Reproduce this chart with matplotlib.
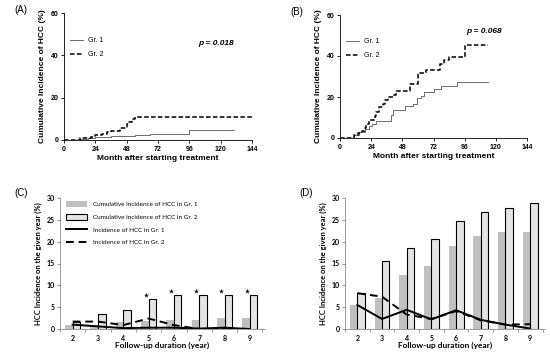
import matplotlib.pyplot as plt
import numpy as np

plt.rcParams['font.family'] = ['Liberation Sans', 'DejaVu Sans']

# ---- (A) cumulative incidence, KM steps
a_t1 = [0, 12, 18, 24, 36, 48, 54, 66, 96, 130]
a_v1 = [0, 0.5, 1.0, 1.5, 1.8, 2.0, 2.3, 2.8, 4.8, 4.8]
a_t2 = [0, 12, 16, 21, 24, 29, 33, 36, 43, 48, 50, 52, 54, 144]
a_v2 = [0, 0.8, 1.1, 1.6, 2.2, 3.0, 3.6, 4.2, 5.5, 7.5, 8.5, 9.8, 10.7, 10.7]
a_p = 'p = 0.018'

# ---- (B)
b_t1 = [0, 11, 15, 19, 22, 25, 28, 39, 41, 50, 56, 59, 62, 65, 72, 78, 90, 114]
b_v1 = [0, 1.5, 3, 4.5, 6, 7, 8.3, 11, 13.8, 15.5, 16.7, 19.5, 20.5, 22.5, 23.8, 25.2, 27.3, 27.3]
b_t2 = [0, 11, 14, 17, 19, 20, 22, 27, 28, 30, 33, 35, 37, 41, 43, 54, 60, 66, 77, 80, 84, 96, 114]
b_v2 = [0, 1.5, 2.5, 3.5, 5, 7, 9, 10.5, 12.5, 15, 16.5, 18.5, 20, 21, 22.8, 26.5, 31.5, 33.2, 36, 38, 39.5, 45.5, 45.5]
b_p = 'p = 0.068'

# ---- (C) / (D) yearly bars + lines
years = ['2', '3', '4', '5', '6', '7', '8', '9']
c_cum1 = [0.9, 1.0, 1.5, 1.8, 2.1, 2.1, 2.5, 2.5]
c_cum2 = [1.7, 3.4, 4.3, 6.8, 7.7, 7.7, 7.7, 7.7]
c_inc1 = [1.0, 0.6, 0.2, 0.3, 0.3, 0.1, 0.3, 0.0]
c_inc2 = [1.7, 1.7, 0.9, 2.4, 0.9, 0.0, 0.0, 0.0]
c_star = [False, False, False, True, True, True, True, True]

d_cum1 = [5.5, 7.2, 12.3, 14.5, 19.0, 21.2, 22.3, 22.3]
d_cum2 = [8.3, 15.5, 18.5, 20.6, 24.7, 26.8, 27.8, 28.8]
d_inc1 = [5.5, 2.3, 4.4, 2.2, 4.3, 2.1, 1.0, 0.1]
d_inc2 = [8.2, 7.4, 3.3, 2.3, 4.1, 2.0, 1.0, 1.1]

W, H = 550, 353
fig = plt.figure(figsize=(5.5, 3.53), dpi=100)

def box(l, r, t, b):
    return [l / W, (H - b) / H, (r - l) / W, (b - t) / H]

def km_panel(rect, t1, v1, t2, v2, ptxt, pxy, tag):
    ax = fig.add_axes(rect)
    ax.step(t1, v1, where='post', color='#555555', lw=0.6, label='Gr. 1')
    ax.step(t2, v2, where='post', color='black', lw=1.1, ls=(0, (3, 1.5)), label='Gr. 2')
    ax.set_xlim(0, 144)
    ax.set_ylim(0, 60)
    ax.set_xticks(np.arange(0, 145, 24))
    ax.set_yticks([0, 20, 40, 60])
    for s in ['top', 'right']:
        ax.spines[s].set_visible(False)
    for s in ['left', 'bottom']:
        ax.spines[s].set_linewidth(0.6)
    ax.tick_params(labelsize=5, width=0.6, length=2.5, pad=1.5)
    for lab in ax.get_xticklabels() + ax.get_yticklabels():
        lab.set_fontweight('bold')
    ax.set_xlabel('Month after starting treatment', fontsize=6, fontweight='bold', labelpad=2)
    ax.set_ylabel('Cumulative Incidence of HCC (%)', fontsize=6, fontweight='bold', labelpad=3)
    ax.legend(loc='upper left', bbox_to_anchor=(0.0, 0.86), frameon=False, fontsize=5,
              handlelength=1.8, labelspacing=1.0, handletextpad=0.8)
    ax.text(pxy[0], pxy[1], ptxt, fontsize=6, fontweight='bold', style='italic')
    fig.text(rect[0] - 0.09, rect[1] + rect[3] + 0.0, tag, fontsize=7)
    return ax

km_panel(box(64, 252, 13, 140), a_t1, a_v1, a_t2, a_v2, a_p, (103, 45), '(A)')
km_panel(box(340, 527, 15, 138), b_t1, b_v1, b_t2, b_v2, b_p, (97, 51), '(B)')

def bar_panel(rect, cum1, cum2, inc1, inc2, stars, tag, show_legend):
    ax = fig.add_axes(rect)
    x = np.arange(len(years))
    bw = 0.3
    b1 = ax.bar(x - bw / 2, cum1, bw, color='#c0c0c0', zorder=2)
    b2 = ax.bar(x + bw / 2, cum2, bw, color='#e4e4e4', edgecolor='black', linewidth=0.8, zorder=2)
    l1, = ax.plot(x, inc1, color='black', lw=1.4, zorder=3)
    l2, = ax.plot(x, inc2, color='black', lw=1.4, ls=(0, (4, 2.5)), zorder=3)
    if stars is not None:
        for i, s in enumerate(stars):
            if s:
                ax.scatter(x[i] - 0.12, cum2[i] + 0.9, marker='*', s=14, color='black', lw=0, zorder=4)
    ax.set_xlim(-0.5, 7.6)
    ax.set_ylim(0, 30)
    ax.set_yticks(np.arange(0, 31, 5))
    ax.set_xticks(x)
    ax.set_xticklabels(years)
    ax.set_xticks(np.arange(-0.5, 7.6, 1), minor=True)
    for s in ['top', 'right']:
        ax.spines[s].set_visible(False)
    for s in ['left', 'bottom']:
        ax.spines[s].set_linewidth(0.6)
        ax.spines[s].set_color('#8a8a8a')
    ax.tick_params(axis='y', labelsize=5, width=0.6, length=2.5, pad=1.5, color='#8a8a8a')
    ax.tick_params(axis='x', which='major', labelsize=5, length=0, pad=4)
    ax.tick_params(axis='x', which='minor', length=2.5, width=0.6, color='#8a8a8a')
    for lab in ax.get_xticklabels() + ax.get_yticklabels():
        lab.set_fontweight('bold')
        lab.set_family(['Lato', 'DejaVu Sans'])
    ax.set_xlabel('Follow-up duration (year)', fontsize=6, fontweight='bold', labelpad=0,
                  family=['Lato', 'DejaVu Sans'])
    ax.set_ylabel('HCC Incidence on the given year (%)', fontsize=5.5, fontweight='bold', labelpad=3,
                  family=['Lato', 'DejaVu Sans'])
    if show_legend:
        ax.legend([b1, b2, l1, l2],
                  ['Cumulative incidence of HCC in Gr. 1', 'Cumulative incidence of HCC in Gr. 2',
                   'Incidence of HCC in Gr. 1', 'Incidence of HCC in Gr. 2'],
                  loc='upper left', bbox_to_anchor=(0.0, 1.02), frameon=False,
                  prop={'family': ['Lato', 'DejaVu Sans'], 'size': 4.6},
                  handlelength=3.3, handleheight=1.1, labelspacing=1.0, handletextpad=0.9)
    fig.text(rect[0] - 0.083, rect[1] + rect[3] + 0.005, tag, fontsize=7)
    return ax

bar_panel(box(60, 265, 198, 329), c_cum1, c_cum2, c_inc1, c_inc2, c_star, '(C)', True)
bar_panel(box(345, 545, 198, 329), d_cum1, d_cum2, d_inc1, d_inc2, None, '(D)', False)

fig.savefig('out.png', dpi=100)
